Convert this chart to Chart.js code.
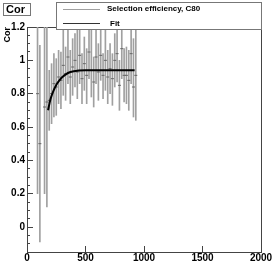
<!DOCTYPE html>
<html>
<head>
<meta charset="utf-8">
<script src="https://cdn.jsdelivr.net/npm/chart.js@4.4.1/dist/chart.umd.min.js"></script>
<style>
html,body{margin:0;padding:0;background:#fff;}
#wrap{width:273px;height:263px;}
</style>
</head>
<body>
<div id="wrap"><canvas id="c" width="273" height="263"></canvas></div>
<script>
// ---- data ----
const xValues   = [90,110,150,170,190,210,230,250,270,290,310,330,350,370,390,410,430,450,470,490,510,530,550,570,590,610,630,650,670,690,710,730,750,770,790,810,830,850,870,890,910,930];
const effValues = [0.80,0.50,0.72,0.75,0.76,0.80,0.86,0.84,0.90,0.88,0.97,0.92,1.02,0.90,0.96,1.00,0.93,1.03,0.89,0.98,0.91,1.05,0.94,0.87,1.02,0.93,1.03,0.91,1.00,0.90,0.95,0.89,1.00,1.04,0.85,1.07,0.91,0.91,0.88,1.04,0.84,0.91];
const errLow    = [0.60,0.59,0.52,0.63,0.18,0.18,0.20,0.17,0.16,0.17,0.18,0.16,0.16,0.16,0.17,0.16,0.16,0.17,0.15,0.16,0.17,0.16,0.16,0.15,0.16,0.17,0.15,0.14,0.18,0.16,0.15,0.16,0.16,0.17,0.15,0.18,0.16,0.17,0.18,0.18,0.18,0.27];
const errHigh   = [0.60,0.59,0.55,0.55,0.18,0.18,0.18,0.17,0.16,0.17,0.24,0.16,0.16,0.16,0.17,0.16,0.28,0.17,0.15,0.16,0.16,0.16,0.27,0.15,0.19,0.17,0.17,0.13,0.20,0.16,0.15,0.15,0.16,0.17,0.15,0.16,0.16,0.17,0.18,0.17,0.29,0.30];
const fitX      = [180,200,225,250,275,300,350,400,500,600,700,800,920];
const fitY      = [0.70,0.765,0.815,0.852,0.878,0.898,0.924,0.935,0.940,0.940,0.940,0.940,0.940];
const seriesLabels = ["Selection efficiency, C80","Fit"];
const titleText = "Cor";
const yAxisTitle = "Cor";
const xRange = [0,2000];
const yRange = [-0.15,1.2];

const FONT = "'Liberation Sans', Arial, Helvetica, sans-serif";
Chart.defaults.font.family = FONT;
Chart.defaults.color = '#000';

const barData = xValues.map((x,i)=>({x:x, y:[effValues[i]-errLow[i], effValues[i]+errHigh[i]]}));
const ptData  = xValues.map((x,i)=>({x:x, y:effValues[i]}));
const fitData = fitX.map((x,i)=>({x:x, y:fitY[i]}));

function noPad(s){ s.paddingLeft=0; s.paddingRight=0; s.paddingTop=0; s.paddingBottom=0; }

const overlay = {
  id:'overlay',
  afterDraw(chart){
    const ctx = chart.ctx;
    ctx.save();
    // title box
    ctx.fillStyle='#fff'; ctx.fillRect(3,3,28,13);
    ctx.strokeStyle='#777'; ctx.lineWidth=1; ctx.strokeRect(3.5,3.5,27,12);
    ctx.fillStyle='#000'; ctx.font="bold 11px "+FONT; ctx.textBaseline='middle'; ctx.textAlign='left';
    ctx.fillText(titleText,6,10);
    // legend box
    ctx.fillStyle='#fff'; ctx.fillRect(56,2,206,28);
    ctx.strokeStyle='#777'; ctx.strokeRect(56.5,2.5,205,27);
    ctx.strokeStyle='#a0a0a0'; ctx.lineWidth=1;
    ctx.beginPath(); ctx.moveTo(63,9.5); ctx.lineTo(100,9.5); ctx.stroke();
    ctx.strokeStyle='#333';
    ctx.beginPath(); ctx.moveTo(63,23.5); ctx.lineTo(100,23.5); ctx.stroke();
    ctx.fillStyle='#000'; ctx.font="bold 8px "+FONT;
    ctx.fillText(seriesLabels[0],107,9);
    ctx.fillText(seriesLabels[1],110,23.5);
    ctx.restore();
  }
};

new Chart(document.getElementById('c'),{
  data:{
    datasets:[
      {type:'bar', label:seriesLabels[0], data:barData, backgroundColor:'#a0a0a0', borderWidth:0, barThickness:1, grouped:false, order:3},
      {type:'scatter', label:seriesLabels[0]+' pts', data:ptData, pointStyle:'line', pointRadius:1.5, borderColor:'#666', borderWidth:1, order:2},
      {type:'line', label:seriesLabels[1], data:fitData, borderColor:'#000', borderWidth:2, pointRadius:0, cubicInterpolationMode:'monotone', fill:false, order:1}
    ]
  },
  options:{
    responsive:false, animation:false, devicePixelRatio:1,
    layout:{padding:{top:27,right:12,left:0,bottom:0}},
    plugins:{legend:{display:false}, tooltip:{enabled:false}},
    scales:{
      x:{type:'linear', position:'bottom', min:xRange[0], max:xRange[1], offset:false,
         ticks:{stepSize:500, padding:6, font:{size:10, weight:'bold'}, color:'#000', maxRotation:0, includeBounds:false,
                callback:(v)=> String(v)},
         grid:{drawOnChartArea:false, offset:false, tickLength:-6, color:'#444', tickColor:'#444'},
         border:{display:true, color:'#444'},
         afterFit(s){ s.height = 11; noPad(s); }},
      y:{type:'linear', position:'left', min:yRange[0], max:yRange[1], weight:2,
         ticks:{stepSize:0.2, padding:8, font:{size:10, weight:'bold'}, color:'#000', includeBounds:false,
                callback:(v)=> (Math.round(v*10)/10).toString()},
         grid:{drawOnChartArea:false, tickLength:-6, color:'#444', tickColor:'#444'},
         border:{display:true, color:'#444'},
         title:{display:true, text:yAxisTitle, align:'end', font:{size:9, weight:'bold'}, color:'#000', padding:{top:2,bottom:0}},
         afterFit(s){ s.width = 27; noPad(s); }},
      yMinor:{type:'linear', position:'left', min:yRange[0], max:yRange[1], weight:1,
         ticks:{stepSize:0.05, display:false},
         grid:{drawOnChartArea:false, tickLength:-3, color:'#444', tickColor:'#444'},
         border:{display:false},
         afterFit(s){ s.width = 0; noPad(s); }},
      yRight:{type:'linear', position:'right', min:yRange[0], max:yRange[1],
         ticks:{display:false}, grid:{display:false, drawTicks:false},
         border:{display:true, color:'#444'},
         afterFit(s){ s.width = 0; noPad(s); }},
      xTop:{type:'linear', position:'top', min:xRange[0], max:xRange[1], offset:false,
         ticks:{display:false}, grid:{display:false, drawTicks:false},
         border:{display:true, color:'#444'},
         afterFit(s){ s.height = 0; noPad(s); }}
    }
  },
  plugins:[overlay]
});
</script>
</body>
</html>
